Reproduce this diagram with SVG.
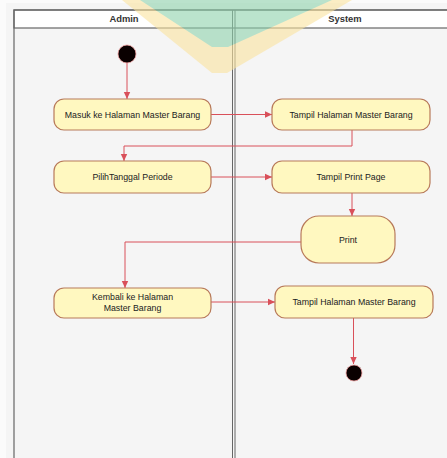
<svg xmlns="http://www.w3.org/2000/svg" width="447" height="458" viewBox="0 0 447 458">
<defs>
<marker id="ah" markerWidth="8" markerHeight="8" refX="7" refY="4" orient="auto" markerUnits="userSpaceOnUse">
<path d="M0,0.8 L7,4 L0,7.2 Z" fill="#d9505a"/>
</marker>
</defs>
<style>
.bg{fill:#f5f5f5}
.lane{fill:none;stroke:#666;stroke-width:1.2}
.hdr{fill:#ffffff;stroke:#666;stroke-width:1.2}
.ht{font-family:"Liberation Sans",Arial,sans-serif;font-size:9.4px;font-weight:bold;fill:#333;text-anchor:middle}
.act{fill:#fff8c0;stroke:#b87a5a;stroke-width:1.2}
.t{font-family:"Liberation Sans",Arial,sans-serif;font-size:8.8px;fill:#222;text-anchor:middle}
.c{fill:none;stroke:#d9505a;stroke-width:1}
.dot{fill:#0a0000;stroke:#f0a0a0;stroke-width:0.8}
</style>
<rect x="0" y="0" width="447" height="458" fill="#fbfbfb"/>
<rect class="bg" x="6" y="3" width="441" height="455"/>
<g id="lanes">
<rect class="hdr" x="14" y="10" width="440" height="18"/>
<rect class="lane" x="14" y="10" width="440" height="460"/>
<line x1="232.5" y1="10" x2="232.5" y2="458" stroke="#666" stroke-width="1"/>
<line x1="235" y1="10" x2="235" y2="458" stroke="#666" stroke-width="1"/>
<text class="ht" x="124" y="22">Admin</text>
<text class="ht" x="345" y="22">System</text>
</g>
<g id="watermark" opacity="0.6">
<polygon points="122,0 352,0 227,73 212,73" fill="#fbe4a0"/>
<polygon points="140,0 332,0 228,47 212,47" fill="#8fd3ad"/>
</g>
<g id="connectors">
<line class="c" x1="127" y1="63" x2="127" y2="99" marker-end="url(#ah)"/>
<line class="c" x1="211" y1="114.5" x2="272" y2="114.5" marker-end="url(#ah)"/>
<polyline class="c" points="352,130 352,146 124,146 124,161" marker-end="url(#ah)"/>
<line class="c" x1="211" y1="177" x2="272" y2="177" marker-end="url(#ah)"/>
<line class="c" x1="352" y1="193" x2="352" y2="216" marker-end="url(#ah)"/>
<polyline class="c" points="301,242 125,242 125,288" marker-end="url(#ah)"/>
<line class="c" x1="211" y1="302" x2="275" y2="302" marker-end="url(#ah)"/>
<line class="c" x1="353.5" y1="318" x2="353.5" y2="364" marker-end="url(#ah)"/>
</g>
<g id="start"><circle class="dot" cx="127" cy="54" r="9"/></g>
<g id="n1"><rect class="act" x="54" y="99" width="157" height="31" rx="10"/><text class="t" x="132.5" y="117.5">Masuk ke Halaman Master Barang</text></g>
<g id="n2"><rect class="act" x="272" y="99" width="158" height="31" rx="10"/><text class="t" x="351" y="117.5">Tampil Halaman Master Barang</text></g>
<g id="n3"><rect class="act" x="54" y="161" width="157" height="32" rx="10"/><text class="t" x="132.5" y="180">PilihTanggal Periode</text></g>
<g id="n4"><rect class="act" x="272" y="161" width="158" height="32" rx="10"/><text class="t" x="351" y="180">Tampil Print Page</text></g>
<g id="n5"><rect class="act" x="301" y="216" width="94" height="47" rx="18"/><text class="t" x="348" y="242.5">Print</text></g>
<g id="n6"><rect class="act" x="54" y="288" width="157" height="30" rx="10"/><text class="t" x="132.5" y="300">Kembali ke Halaman</text><text class="t" x="132.5" y="311">Master Barang</text></g>
<g id="n7"><rect class="act" x="275" y="286" width="158" height="32" rx="10"/><text class="t" x="354" y="305">Tampil Halaman Master Barang</text></g>
<g id="end"><circle class="dot" cx="354" cy="373" r="8"/></g>
</svg>
